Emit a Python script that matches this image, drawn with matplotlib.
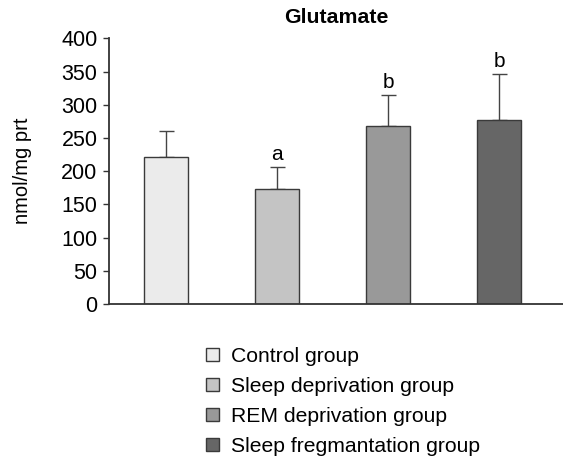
import matplotlib
matplotlib.use("Agg")
import matplotlib.pyplot as plt
import numpy as np

plt.rcParams['font.family'] = ['Liberation Sans', 'DejaVu Sans']

groups = ["Control group", "Sleep deprivation group",
          "REM deprivation group", "Sleep fregmantation group"]
means = [222, 173, 268, 277]
errors = [39, 34, 47, 70]
letters = ["", "a", "b", "b"]
colors = ["#ebebeb", "#c4c4c4", "#999999", "#666666"]

fig = plt.figure(figsize=(5.63, 4.66), dpi=100)
ax = fig.add_axes([0.1936, 0.3476, 0.8064, 0.570])

x = np.arange(len(groups))
bars = ax.bar(x, means, width=0.39, color=colors, edgecolor="#3a3a3a",
              linewidth=1, zorder=2)
ax.errorbar(x, means, yerr=[np.zeros(len(means)), errors], fmt="none",
            ecolor="#444444", elinewidth=1, capsize=5.4, capthick=1, zorder=1)

for xi, m, e, lab in zip(x, means, errors, letters):
    if lab:
        ax.annotate(lab, (xi, m + e), xytext=(0, 2), textcoords="offset points",
                    ha="center", va="bottom", fontsize=15)

ax.set_xlim(-0.514, 3.577)
ax.set_ylim(0, 400)
ax.set_yticks(range(0, 401, 50))
ax.set_xticks([])
ax.tick_params(axis="y", labelsize=15.5, length=4.3, width=1, color="#333333",
               pad=4)
for s in ["top", "right"]:
    ax.spines[s].set_visible(False)
for s in ["left", "bottom"]:
    ax.spines[s].set_color("#333333")
    ax.spines[s].set_linewidth(1.3)

ax.set_ylabel("nmol/mg prt", fontsize=14.5, labelpad=21)
ax.set_title("Glutamate", fontsize=15.3, fontweight="bold", pad=11)

fig.legend(bars, groups, loc="upper left",
           bbox_to_anchor=(206 / 563, 1 - 347 / 466), frameon=False,
           fontsize=15.2, handlelength=0.62, handleheight=0.62,
           handletextpad=0.55, labelspacing=0.52, borderpad=0, borderaxespad=0)

fig.savefig("out.png", dpi=100)
